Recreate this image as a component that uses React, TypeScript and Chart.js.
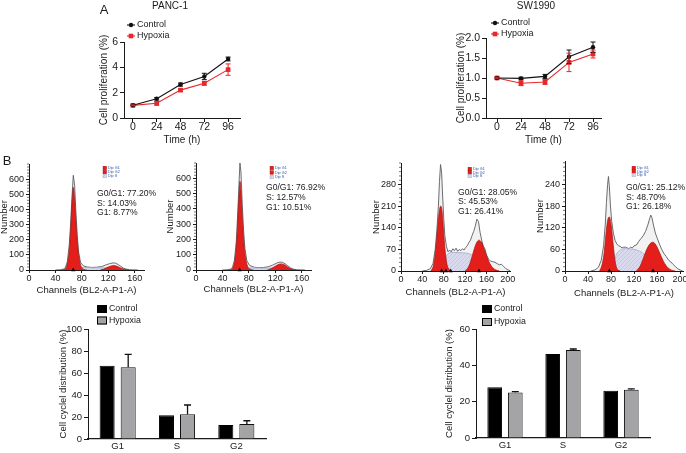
import React, { useEffect, useRef } from "react";
import { Chart, registerables } from "chart.js";

Chart.register(...registerables);

const FONT = '"Liberation Sans", Arial, Helvetica, sans-serif';

// ---------------- A: cell proliferation ----------------
const TIME_H = [0, 24, 48, 72, 96];
const TIME_TICKS = [0, 24, 48, 72, 96];
const PANC_CONTROL = [1.0, 1.52, 2.64, 3.28, 4.66];
const PANC_CONTROL_ERR = [0.03, 0.1, 0.12, 0.25, 0.15];
const PANC_HYPOXIA = [1.0, 1.16, 2.2, 2.74, 3.82];
const PANC_HYPOXIA_ERR = [0.03, 0.15, 0.08, 0.15, 0.45];
const PANC_Y_TICKS = [0, 2, 4, 6];
const SW_CONTROL = [1.0, 0.99, 1.04, 1.53, 1.77];
const SW_CONTROL_ERR = [0.02, 0.03, 0.05, 0.17, 0.13];
const SW_HYPOXIA = [1.0, 0.87, 0.9, 1.39, 1.6];
const SW_HYPOXIA_ERR = [0.02, 0.06, 0.06, 0.23, 0.1];
const SW_Y_TICKS = [0, 0.5, 1.0, 1.5, 2.0];

// ---------------- B: DNA histograms ----------------
const FIT_LABELS = ["Dip G1", "Dip G2", "Dip S"];

// PANC-1 control
const H1_RAW_CH = [40, 48, 52, 55, 58, 61, 63, 65, 67, 69, 71, 73, 75, 78, 82, 88, 95, 102, 110, 116, 122, 127, 131, 135, 139, 143, 147, 152, 158, 165];
const H1_RAW_N = [0, 2, 6, 15, 55, 170, 310, 480, 625, 560, 380, 230, 120, 50, 28, 20, 17, 18, 23, 33, 42, 47, 45, 36, 24, 12, 6, 2, 1, 0];
const H1_G1_CH = [50, 55, 58, 61, 63, 65, 67, 69, 71, 73, 76, 79, 83, 88];
const H1_G1_N = [0, 8, 40, 130, 260, 430, 545, 470, 320, 190, 75, 22, 4, 0];
const H1_G2_CH = [108, 113, 118, 123, 128, 133, 138, 143, 148, 152];
const H1_G2_N = [0, 6, 16, 25, 29, 25, 15, 6, 1, 0];
const H1_S_CH = [62, 68, 75, 85, 95, 105, 115, 122, 130, 136, 142];
const H1_S_N = [0, 8, 14, 16, 15, 15, 14, 12, 8, 4, 0];
const H1_MARKS = [67];
const H1_STATS = ["G0/G1: 77.20%", "S: 14.03%", "G1: 8.77%"];

// PANC-1 hypoxia
const H2_RAW_CH = [40, 48, 52, 55, 58, 61, 63, 65, 66.5, 68, 70, 72, 74, 77, 81, 88, 95, 102, 110, 116, 122, 127, 131, 135, 139, 143, 147, 152, 158, 165];
const H2_RAW_N = [0, 2, 6, 15, 60, 190, 360, 560, 700, 640, 430, 260, 140, 60, 30, 18, 15, 16, 22, 32, 45, 52, 50, 40, 27, 14, 6, 2, 1, 0];
const H2_G1_CH = [50, 55, 58, 61, 63, 65, 66.5, 68, 70, 72, 75, 78, 82, 87];
const H2_G1_N = [0, 8, 45, 150, 300, 480, 580, 520, 350, 200, 80, 25, 5, 0];
const H2_G2_CH = [108, 113, 118, 123, 128, 133, 138, 143, 148, 152];
const H2_G2_N = [0, 8, 20, 33, 40, 36, 22, 9, 2, 0];
const H2_S_CH = [62, 68, 75, 85, 95, 105, 115, 122, 130, 136, 142];
const H2_S_N = [0, 8, 13, 14, 13, 13, 12, 10, 7, 3, 0];
const H2_MARKS = [66];
const H2_STATS = ["G0/G1: 76.92%", "S: 12.57%", "G1: 10.51%"];

// SW1990 control
const H3_RAW_CH = [40, 48, 55, 60, 64, 67, 70, 72, 74, 76, 78, 80, 82, 85, 88, 91, 94, 97, 100, 103, 106, 109, 112, 115, 118, 121, 124, 127, 130, 133, 136, 139, 142, 145, 148, 151, 154, 157, 160, 164, 168, 172, 176, 180, 184, 188, 192, 196, 200, 204];
const H3_RAW_N = [0, 2, 8, 25, 70, 130, 210, 290, 345, 320, 240, 170, 115, 80, 62, 68, 62, 72, 66, 74, 64, 70, 66, 72, 68, 76, 82, 92, 100, 115, 128, 145, 168, 160, 125, 100, 80, 72, 52, 38, 32, 30, 28, 24, 20, 22, 15, 8, 4, 1];
const H3_G1_CH = [56, 61, 65, 68, 71, 74, 76, 78, 80, 83, 86, 90, 94];
const H3_G1_N = [0, 20, 70, 130, 185, 210, 205, 170, 120, 60, 22, 5, 0];
const H3_G2_CH = [120, 126, 131, 136, 141, 146, 151, 156, 161, 166, 172, 178, 184];
const H3_G2_N = [0, 12, 35, 65, 90, 100, 92, 70, 45, 25, 10, 3, 0];
const H3_S_CH = [78, 81, 84, 88, 95, 105, 115, 125, 133, 139, 144, 148];
const H3_S_N = [0, 25, 45, 55, 60, 60, 59, 57, 52, 42, 25, 0];
const H3_MARKS = [76, 84, 93, 146];
const H3_STATS = ["G0/G1: 28.05%", "S: 45.53%", "G1: 26.41%"];

// SW1990 hypoxia
const H4_RAW_CH = [45, 52, 58, 63, 67, 70, 72, 74, 75.5, 77, 79, 81, 84, 87, 90, 93, 96, 99, 102, 105, 108, 111, 114, 117, 120, 124, 128, 132, 136, 140, 144, 147, 149, 151, 154, 157, 160, 164, 168, 172, 176, 180, 184, 188, 192, 196, 200, 204];
const H4_RAW_N = [0, 3, 10, 30, 70, 130, 190, 240, 262, 235, 180, 140, 105, 85, 75, 70, 68, 64, 66, 66, 64, 62, 66, 64, 70, 72, 82, 90, 98, 110, 128, 145, 155, 148, 125, 105, 92, 75, 60, 48, 40, 30, 25, 18, 12, 6, 3, 0];
const H4_G1_CH = [60, 64, 68, 71, 74, 77, 80, 83, 86, 89, 93, 96];
const H4_G1_N = [0, 15, 50, 100, 140, 150, 130, 85, 40, 12, 2, 0];
const H4_G2_CH = [124, 130, 136, 142, 148, 153, 158, 164, 170, 176, 182, 188, 192];
const H4_G2_N = [0, 12, 35, 60, 76, 80, 72, 52, 30, 14, 5, 1, 0];
const H4_S_CH = [82, 85, 89, 95, 105, 115, 125, 135, 142, 148, 153];
const H4_S_N = [0, 25, 45, 57, 62, 61, 58, 50, 38, 20, 0];
const H4_MARKS = [77, 153];
const H4_STATS = ["G0/G1: 25.12%", "S: 48.70%", "G1: 26.18%"];

const H12_Y_TICKS = [0, 100, 200, 300, 400, 500, 600];
const H3_Y_TICKS = [0, 70, 140, 210, 280];
const H4_Y_TICKS = [0, 60, 120, 180, 240];
const H12_X_TICKS = [0, 40, 80, 120, 160];
const H34_X_TICKS = [0, 40, 80, 120, 160, 200];

// ---------------- B: cell cycle distribution bars ----------------
const PHASES = ["G1", "S", "G2"];
const PANC_BAR_CONTROL = [66.6, 21.5, 12.7];
const PANC_BAR_HYPOXIA = [65.2, 22.4, 13.6];
const PANC_BAR_HYPOXIA_ERR = [11.8, 8.5, 3.0];
const PANC_BAR_Y_TICKS = [0, 20, 40, 60, 80, 100];
const SW_BAR_CONTROL = [27.9, 46.2, 26.0];
const SW_BAR_HYPOXIA = [25.1, 48.4, 26.6];
const SW_BAR_HYPOXIA_ERR = [0.4, 0.6, 0.4];
const SW_BAR_Y_TICKS = [0, 20, 40, 60];

// ---------------- helpers ----------------
type Box = { x: number; y: number; w: number; h: number };
type Area = { l: number; t: number; r: number; b: number };

const INK = "#1a1a1a";
const RED = "#e8262b";

function pts(xs: number[], ys: number[]) {
  return xs.map((x, i) => ({ x, y: ys[i] }));
}

function zeroPad(s: any) {
  s.paddingLeft = 0;
  s.paddingRight = 0;
  s.paddingTop = 0;
  s.paddingBottom = 0;
}

function layoutFor(box: Box, area: Area) {
  return {
    autoPadding: false,
    padding: { left: 0, top: area.t - box.y, right: box.x + box.w - area.r, bottom: 0 },
  };
}

function yAxis(box: Box, area: Area, o: {
  min: number; max: number; ticks: number[]; fmt: (v: number) => string;
  title: string; titleX: number; size?: number; tickSize?: number; tickLen?: number;
}) {
  const size = o.size ?? 9.5;
  const lh = size * 1.2;
  return {
    type: "linear",
    position: "left",
    min: o.min,
    max: o.max,
    afterBuildTicks: (s: any) => {
      s.ticks = o.ticks.map((v) => ({ value: v }));
    },
    afterFit: (s: any) => {
      s.width = area.l - box.x;
      zeroPad(s);
    },
    grid: { display: true, drawOnChartArea: false, drawTicks: true, tickLength: o.tickLen ?? 4, color: INK, lineWidth: 1 },
    border: { display: true, color: INK, width: 1 },
    ticks: { color: INK, padding: 2, font: { family: FONT, size: o.tickSize ?? size, lineHeight: 1 }, callback: (v: any) => o.fmt(Number(v)) },
    title: {
      display: true,
      text: o.title,
      color: INK,
      font: { family: FONT, size },
      padding: { top: o.titleX - box.x - lh / 2, bottom: 0 },
    },
  };
}

function xLinear(box: Box, area: Area, o: {
  min: number; max: number; ticks: number[]; title: string; titleY: number; size?: number; tickSize?: number; tickLen?: number; pad?: number;
}) {
  const size = o.size ?? 9.5;
  const lh = size * 1.2;
  return {
    type: "linear",
    position: "bottom",
    min: o.min,
    max: o.max,
    afterBuildTicks: (s: any) => {
      s.ticks = o.ticks.map((v) => ({ value: v }));
    },
    afterFit: (s: any) => {
      s.height = box.y + box.h - area.b;
      zeroPad(s);
    },
    grid: { display: true, drawOnChartArea: false, drawTicks: true, tickLength: o.tickLen ?? 4, color: INK, lineWidth: 1 },
    border: { display: true, color: INK, width: 1 },
    ticks: { color: INK, padding: o.pad ?? 0, maxRotation: 0, autoSkip: false, font: { family: FONT, size: o.tickSize ?? size, lineHeight: 1 } },
    title: {
      display: true,
      text: o.title,
      color: INK,
      font: { family: FONT, size },
      padding: { top: 0, bottom: box.y + box.h - o.titleY - lh / 2 },
    },
  };
}

function text(ctx: CanvasRenderingContext2D, s: string, x: number, y: number, size: number, o: { color?: string; align?: CanvasTextAlign; weight?: string } = {}) {
  ctx.font = `${o.weight || "normal"} ${size}px ${FONT}`;
  ctx.fillStyle = o.color || INK;
  ctx.textAlign = o.align || "left";
  ctx.textBaseline = "middle";
  ctx.fillText(s, x, y);
}

function overlay(box: Box, draw: (ctx: CanvasRenderingContext2D, chart: any) => void) {
  return {
    id: "overlay",
    afterDraw(chart: any) {
      const ctx = chart.ctx as CanvasRenderingContext2D;
      ctx.save();
      ctx.translate(-box.x, -box.y);
      draw(ctx, chart);
      ctx.restore();
    },
  };
}

const errorBarPlugin = {
  id: "errorBars",
  afterDatasetsDraw(chart: any) {
    const ctx = chart.ctx as CanvasRenderingContext2D;
    const ys = chart.scales.y;
    chart.data.datasets.forEach((ds: any, i: number) => {
      const errs: number[] | undefined = ds.errorBars;
      if (!errs) return;
      const meta = chart.getDatasetMeta(i);
      ctx.save();
      ctx.strokeStyle = ds.errorColor || ds.borderColor;
      ctx.lineWidth = ds.errorWidth || 1;
      meta.data.forEach((el: any, j: number) => {
        const e = errs[j];
        if (!e) return;
        const raw = ds.data[j];
        const v = typeof raw === "number" ? raw : raw.y;
        const x = el.x;
        const top = ys.getPixelForValue(v + e);
        const bot = ds.errorMode === "up" ? el.y : ys.getPixelForValue(v - e);
        const c = ds.errorCap ?? 2.5;
        ctx.beginPath();
        ctx.moveTo(x, top);
        ctx.lineTo(x, bot);
        ctx.moveTo(x - c, top);
        ctx.lineTo(x + c, top);
        if (ds.errorMode !== "up") {
          ctx.moveTo(x - c, bot);
          ctx.lineTo(x + c, bot);
        }
        ctx.stroke();
      });
      ctx.restore();
    });
  },
};

const commonPlugins = {
  legend: { display: false },
  tooltip: { enabled: false },
  title: { display: false },
};

// ---------------- line charts ----------------
function lineConfig(p: {
  box: Box; area: Area; xMin: number; xMax: number; yMax: number; yTicks: number[]; yFmt: (v: number) => string;
  control: number[]; controlErr: number[]; hypoxia: number[]; hypoxiaErr: number[];
  yTitleX: number; xTitleY: number; title: string; titleX: number; titleY: number;
  legendX: number; legendY: number[]; letter?: { text: string; x: number; y: number };
}) {
  const { box, area } = p;
  return {
    type: "line",
    data: {
      datasets: [
        {
          label: "Control",
          data: pts(TIME_H, p.control),
          borderColor: "#111",
          backgroundColor: "#111",
          borderWidth: 1.1,
          pointStyle: "circle",
          pointRadius: 2.2,
          pointBorderWidth: 0,
          errorBars: p.controlErr,
          errorMode: "both",
          errorCap: 2.5,
          errorWidth: 1,
        },
        {
          label: "Hypoxia",
          data: pts(TIME_H, p.hypoxia),
          borderColor: RED,
          backgroundColor: RED,
          borderWidth: 1.1,
          pointStyle: "rect",
          pointRadius: 3.3,
          pointBorderWidth: 0,
          errorBars: p.hypoxiaErr,
          errorMode: "both",
          errorCap: 2.5,
          errorWidth: 1,
        },
      ],
    },
    options: {
      responsive: false,
      animation: false,
      events: [],
      layout: layoutFor(box, area),
      plugins: commonPlugins,
      scales: {
        x: xLinear(box, area, { min: p.xMin, max: p.xMax, ticks: TIME_TICKS, title: "Time (h)", titleY: p.xTitleY, size: 10, tickSize: 10.5, tickLen: 4, pad: 0 }),
        y: yAxis(box, area, { min: 0, max: p.yMax, ticks: p.yTicks, fmt: p.yFmt, title: "Cell proliferation (%)", titleX: p.yTitleX, size: 10, tickSize: 10.5, tickLen: 4 }),
      },
    },
    plugins: [
      errorBarPlugin,
      overlay(box, (ctx, chart) => {
        text(ctx, p.title, p.titleX, p.titleY, 10, { align: "center" });
        if (p.letter) text(ctx, p.letter.text, p.letter.x, p.letter.y, 13, { align: "center" });
        chart.data.datasets.forEach((ds: any, i: number) => {
          const y = p.legendY[i];
          const x0 = p.legendX;
          ctx.strokeStyle = ds.borderColor;
          ctx.lineWidth = 1.1;
          ctx.beginPath();
          ctx.moveTo(x0, y);
          ctx.lineTo(x0 + 8, y);
          ctx.stroke();
          ctx.fillStyle = ds.backgroundColor;
          if (ds.pointStyle === "rect") {
            ctx.fillRect(x0 + 4 - 2.3, y - 2.3, 4.6, 4.6);
          } else {
            ctx.beginPath();
            ctx.arc(x0 + 4, y, 2.2, 0, Math.PI * 2);
            ctx.fill();
          }
          text(ctx, ds.label, x0 + 10, y, 9);
        });
      }),
    ],
  };
}

// ---------------- histograms ----------------
let hatchCache: any = null;
function hatch() {
  if (hatchCache) return hatchCache;
  const c = document.createElement("canvas");
  c.width = 4;
  c.height = 4;
  const g = c.getContext("2d");
  if (!g) return "#d6d7ec";
  g.fillStyle = "#d9daee";
  g.fillRect(0, 0, 4, 4);
  g.strokeStyle = "#bfc1e0";
  g.lineWidth = 0.7;
  g.beginPath();
  g.moveTo(0, 4);
  g.lineTo(4, 0);
  g.stroke();
  hatchCache = g.createPattern(c, "repeat") || "#d6d7ec";
  return hatchCache;
}

function histConfig(p: {
  box: Box; area: Area; xMax: number; xTicks: number[]; yMax: number; yTicks: number[]; minor: number;
  raw: [number[], number[]]; g1: [number[], number[]]; g2: [number[], number[]]; s: [number[], number[]];
  marks: number[]; stats: string[]; statsX: number; statsY: number[];
  legX: number; legY: number[]; yTitleX: number; xTitleY: number; letter?: { text: string; x: number; y: number };
}) {
  const { box, area } = p;
  const fitted = { pointRadius: 0, borderWidth: 0.7, fill: "origin", cubicInterpolationMode: "monotone" };
  return {
    type: "line",
    data: {
      datasets: [
        {
          label: FIT_LABELS[0],
          data: pts(p.g1[0], p.g1[1]),
          backgroundColor: "#e41f1b",
          borderColor: "#9c1410",
          order: 1,
          fitBox: true,
          ...fitted,
        },
        {
          label: FIT_LABELS[1],
          data: pts(p.g2[0], p.g2[1]),
          backgroundColor: "#e41f1b",
          borderColor: "#9c1410",
          order: 1,
          fitBox: true,
          ...fitted,
        },
        {
          label: FIT_LABELS[2],
          data: pts(p.s[0], p.s[1]),
          backgroundColor: hatch(),
          borderColor: "#9fa1c8",
          order: 2,
          fitBox: true,
          ...fitted,
        },
        {
          label: "Data",
          data: pts(p.raw[0], p.raw[1]),
          borderColor: "#5c5c5c",
          backgroundColor: "rgba(0,0,0,0.05)",
          borderWidth: 0.9,
          pointRadius: 0,
          fill: "origin",
          tension: 0,
          order: 3,
        },
        {
          type: "scatter",
          label: "Peaks",
          data: p.marks.map((m) => ({ x: m, y: 0 })),
          pointStyle: "triangle",
          pointRadius: 2.4,
          backgroundColor: "#000",
          borderColor: "#000",
          borderWidth: 0,
          clip: false,
          order: 0,
        },
      ],
    },
    options: {
      responsive: false,
      animation: false,
      events: [],
      layout: layoutFor(box, area),
      plugins: commonPlugins,
      scales: {
        x: xLinear(box, area, { min: 0, max: p.xMax, ticks: p.xTicks, title: "Channels (BL2-A-P1-A)", titleY: p.xTitleY, size: 9.5, tickSize: 9, tickLen: 3, pad: 1 }),
        y: yAxis(box, area, { min: 0, max: p.yMax, ticks: p.yTicks, fmt: (v) => String(v), title: "Number", titleX: p.yTitleX, size: 9.5, tickSize: 9, tickLen: 3 }),
      },
    },
    plugins: [
      overlay(box, (ctx, chart) => {
        const ys = chart.scales.y;
        ctx.strokeStyle = INK;
        ctx.lineWidth = 0.6;
        ctx.beginPath();
        for (let v = 0; v <= p.yMax; v += p.minor) {
          if (p.yTicks.includes(v)) continue;
          const py = ys.getPixelForValue(v) + box.y;
          ctx.moveTo(area.l - 2, py);
          ctx.lineTo(area.l, py);
        }
        ctx.stroke();
        p.stats.forEach((s, i) => text(ctx, s, p.statsX, p.statsY[i], 8.6));
        chart.data.datasets
          .filter((ds: any) => ds.fitBox)
          .forEach((ds: any, i: number) => {
            const y = p.legY[i];
            ctx.fillStyle = ds.backgroundColor;
            ctx.fillRect(p.legX, y - 1.8, 3.6, 3.6);
            ctx.strokeStyle = ds.borderColor;
            ctx.lineWidth = 0.4;
            ctx.strokeRect(p.legX, y - 1.8, 3.6, 3.6);
            text(ctx, ds.label, p.legX + 5, y, 3.8, { color: "#2f56a8" });
          });
        if (p.letter) text(ctx, p.letter.text, p.letter.x, p.letter.y, 13, { align: "center" });
      }),
    ],
  };
}

// ---------------- bar charts ----------------
function barConfig(p: {
  box: Box; area: Area; yMax: number; yTicks: number[]; control: number[]; hypoxia: number[]; hypoxiaErr: number[];
  yTitleX: number; legendX: number; legendY: number[];
}) {
  const { box, area } = p;
  return {
    type: "bar",
    data: {
      labels: PHASES,
      datasets: [
        {
          label: "Control",
          data: p.control,
          backgroundColor: "#000",
          borderColor: "#000",
          borderWidth: 1,
          barPercentage: 0.714,
          categoryPercentage: 0.71,
        },
        {
          label: "Hypoxia",
          data: p.hypoxia,
          backgroundColor: "#a4a4a7",
          borderColor: "#111",
          borderWidth: 1,
          barPercentage: 0.714,
          categoryPercentage: 0.71,
          errorBars: p.hypoxiaErr,
          errorMode: "up",
          errorCap: 3.5,
          errorColor: "#111",
          errorWidth: 1.3,
        },
      ],
    },
    options: {
      responsive: false,
      animation: false,
      events: [],
      layout: layoutFor(box, area),
      plugins: commonPlugins,
      scales: {
        x: {
          type: "category",
          position: "bottom",
          offset: true,
          afterFit: (s: any) => {
            s.height = box.y + box.h - area.b;
            zeroPad(s);
          },
          grid: { display: true, drawOnChartArea: false, drawTicks: false, color: INK },
          border: { display: true, color: INK, width: 1.2 },
          ticks: { color: INK, padding: 3, font: { family: FONT, size: 9.5, lineHeight: 1 } },
        },
        y: yAxis(box, area, { min: 0, max: p.yMax, ticks: p.yTicks, fmt: (v) => String(v), title: "Cell cyclel distribution (%)", titleX: p.yTitleX, size: 9.5, tickLen: 4 }),
      },
    },
    plugins: [
      errorBarPlugin,
      overlay(box, (ctx, chart) => {
        chart.data.datasets.forEach((ds: any, i: number) => {
          const y = p.legendY[i];
          ctx.fillStyle = ds.backgroundColor;
          ctx.fillRect(p.legendX, y - 4, 10, 8);
          ctx.strokeStyle = "#000";
          ctx.lineWidth = 1;
          ctx.strokeRect(p.legendX + 0.5, y - 3.5, 9, 7);
          text(ctx, ds.label, p.legendX + 12, y, 8.8);
        });
      }),
    ],
  };
}

// ---------------- layout of panels ----------------
const PANELS: { key: string; box: Box; make: () => any }[] = [
  {
    key: "pancLine",
    box: { x: 90, y: 0, w: 170, h: 150 },
    make: () =>
      lineConfig({
        box: { x: 90, y: 0, w: 170, h: 150 },
        area: { l: 124, t: 42, r: 240, b: 118 },
        xMin: -9, xMax: 108, yMax: 6, yTicks: PANC_Y_TICKS, yFmt: (v) => String(v),
        control: PANC_CONTROL, controlErr: PANC_CONTROL_ERR, hypoxia: PANC_HYPOXIA, hypoxiaErr: PANC_HYPOXIA_ERR,
        yTitleX: 104, xTitleY: 140, title: "PANC-1", titleX: 170, titleY: 6,
        legendX: 127, legendY: [25, 36], letter: { text: "A", x: 104, y: 10 },
      }),
  },
  {
    key: "swLine",
    box: { x: 440, y: 0, w: 180, h: 150 },
    make: () =>
      lineConfig({
        box: { x: 440, y: 0, w: 180, h: 150 },
        area: { l: 486, t: 38, r: 601, b: 118 },
        xMin: -11, xMax: 104, yMax: 2, yTicks: SW_Y_TICKS, yFmt: (v) => v.toFixed(1),
        control: SW_CONTROL, controlErr: SW_CONTROL_ERR, hypoxia: SW_HYPOXIA, hypoxiaErr: SW_HYPOXIA_ERR,
        yTitleX: 461, xTitleY: 140, title: "SW1990", titleX: 536, titleY: 6,
        legendX: 491, legendY: [23, 34],
      }),
  },
  {
    key: "h1",
    box: { x: 0, y: 150, w: 172, h: 150 },
    make: () =>
      histConfig({
        box: { x: 0, y: 150, w: 172, h: 150 },
        area: { l: 29, t: 164, r: 144, b: 270 },
        xMax: 174, xTicks: H12_X_TICKS, yMax: 700, yTicks: H12_Y_TICKS, minor: 20,
        raw: [H1_RAW_CH, H1_RAW_N], g1: [H1_G1_CH, H1_G1_N], g2: [H1_G2_CH, H1_G2_N], s: [H1_S_CH, H1_S_N],
        marks: H1_MARKS, stats: H1_STATS, statsX: 97, statsY: [194, 203.5, 213],
        legX: 103, legY: [168, 172, 176], yTitleX: 4.5, xTitleY: 290, letter: { text: "B", x: 7, y: 161 },
      }),
  },
  {
    key: "h2",
    box: { x: 165, y: 150, w: 172, h: 150 },
    make: () =>
      histConfig({
        box: { x: 165, y: 150, w: 172, h: 150 },
        area: { l: 196, t: 163, r: 311, b: 270 },
        xMax: 174, xTicks: H12_X_TICKS, yMax: 700, yTicks: H12_Y_TICKS, minor: 20,
        raw: [H2_RAW_CH, H2_RAW_N], g1: [H2_G1_CH, H2_G1_N], g2: [H2_G2_CH, H2_G2_N], s: [H2_S_CH, H2_S_N],
        marks: H2_MARKS, stats: H2_STATS, statsX: 266, statsY: [188, 198, 208],
        legX: 270, legY: [168, 172.5, 177], yTitleX: 170, xTitleY: 289,
      }),
  },
  {
    key: "h3",
    box: { x: 360, y: 150, w: 170, h: 150 },
    make: () =>
      histConfig({
        box: { x: 360, y: 150, w: 170, h: 150 },
        area: { l: 401, t: 163, r: 510, b: 271 },
        xMax: 204, xTicks: H34_X_TICKS, yMax: 350, yTicks: H3_Y_TICKS, minor: 14,
        raw: [H3_RAW_CH, H3_RAW_N], g1: [H3_G1_CH, H3_G1_N], g2: [H3_G2_CH, H3_G2_N], s: [H3_S_CH, H3_S_N],
        marks: H3_MARKS, stats: H3_STATS, statsX: 458, statsY: [193, 202, 212],
        legX: 468, legY: [169, 172.5, 176], yTitleX: 376, xTitleY: 292,
      }),
  },
  {
    key: "h4",
    box: { x: 528, y: 150, w: 158, h: 150 },
    make: () =>
      histConfig({
        box: { x: 528, y: 150, w: 158, h: 150 },
        area: { l: 565, t: 161, r: 683, b: 271 },
        xMax: 205, xTicks: H34_X_TICKS, yMax: 305, yTicks: H4_Y_TICKS, minor: 12,
        raw: [H4_RAW_CH, H4_RAW_N], g1: [H4_G1_CH, H4_G1_N], g2: [H4_G2_CH, H4_G2_N], s: [H4_S_CH, H4_S_N],
        marks: H4_MARKS, stats: H4_STATS, statsX: 626, statsY: [188, 198, 207],
        legX: 632, legY: [168, 171.5, 175], yTitleX: 540, xTitleY: 293,
      }),
  },
  {
    key: "pancBar",
    box: { x: 40, y: 300, w: 260, h: 153 },
    make: () =>
      barConfig({
        box: { x: 40, y: 300, w: 260, h: 153 },
        area: { l: 88, t: 329, r: 266, b: 439 },
        yMax: 100, yTicks: PANC_BAR_Y_TICKS,
        control: PANC_BAR_CONTROL, hypoxia: PANC_BAR_HYPOXIA, hypoxiaErr: PANC_BAR_HYPOXIA_ERR,
        yTitleX: 63, legendX: 97, legendY: [309, 320.5],
      }),
  },
  {
    key: "swBar",
    box: { x: 420, y: 300, w: 266, h: 153 },
    make: () =>
      barConfig({
        box: { x: 420, y: 300, w: 266, h: 153 },
        area: { l: 476, t: 329, r: 650, b: 438 },
        yMax: 60, yTicks: SW_BAR_Y_TICKS,
        control: SW_BAR_CONTROL, hypoxia: SW_BAR_HYPOXIA, hypoxiaErr: SW_BAR_HYPOXIA_ERR,
        yTitleX: 449, legendX: 482, legendY: [309, 322],
      }),
  },
];

function ChartBox({ box, make }: { box: Box; make: () => any }) {
  const ref = useRef<HTMLCanvasElement | null>(null);
  useEffect(() => {
    if (!ref.current) return;
    const chart = new Chart(ref.current, make());
    return () => chart.destroy();
  }, [make]);
  return (
    <canvas
      ref={ref}
      width={box.w}
      height={box.h}
      style={{ position: "absolute", left: box.x, top: box.y, width: box.w, height: box.h }}
    />
  );
}

export default function App() {
  return (
    <div
      style={{
        position: "absolute",
        left: 0,
        top: 0,
        width: 686,
        height: 453,
        background: "#fff",
        overflow: "hidden",
      }}
    >
      {PANELS.map((p) => (
        <ChartBox key={p.key} box={p.box} make={p.make} />
      ))}
    </div>
  );
}
